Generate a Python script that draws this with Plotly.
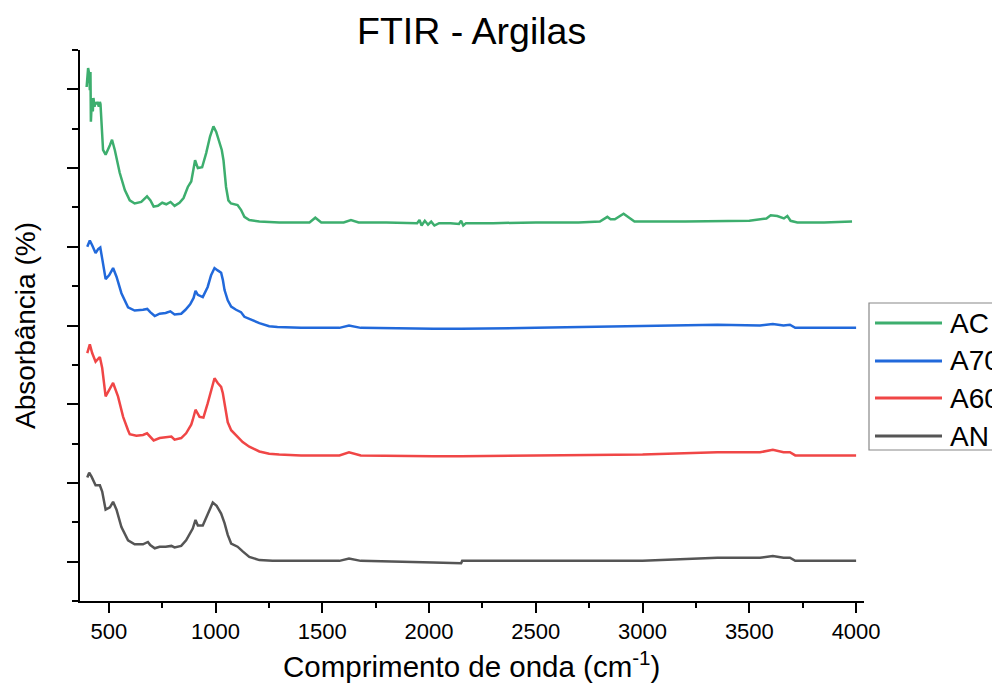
import plotly.graph_objects as go

# ---------------- data ----------------
series_names = ["AC", "A700", "A600", "AN"]
series_colors = ["#3DAE6E", "#2169DB", "#F04646", "#555555"]

ac_x = [396, 403, 408, 411, 414, 416, 421, 425, 428, 433, 438, 442, 447, 453, 458, 461, 473, 485,
        505, 515, 528, 551, 575, 598, 621, 652, 679, 695, 710, 730, 750, 769, 789, 808, 831, 850,
        870, 886, 904, 917, 937, 956, 974, 990, 1003, 1018, 1029, 1037, 1044, 1049, 1060, 1072,
        1103, 1119, 1135, 1158, 1205, 1298, 1440, 1467, 1495, 1600, 1634, 1670, 1800, 1944, 1955,
        1965, 1980, 1995, 2010, 2025, 2047, 2100, 2140, 2150, 2160, 2173, 2300, 2500, 2700, 2800,
        2835, 2850, 2870, 2911, 2962, 3200, 3500, 3580, 3600, 3631, 3662, 3678, 3693, 3725, 3850, 3981]
ac_y = [6.03, 6.27, 6.20, 5.99, 6.22, 5.59, 5.89, 5.72, 5.89, 5.78, 5.84, 5.81, 5.84, 5.78, 5.84, 5.81, 5.23, 5.17,
        5.29, 5.36, 5.23, 4.94, 4.72, 4.59, 4.55, 4.57, 4.64, 4.59, 4.51, 4.52, 4.56, 4.54, 4.57, 4.52, 4.56, 4.62,
        4.76, 4.83, 5.10, 5.00, 5.01, 5.19, 5.40, 5.53, 5.46, 5.33, 5.23, 5.10, 4.94, 4.76, 4.59, 4.55,
        4.53, 4.47, 4.38, 4.34, 4.32, 4.31, 4.31, 4.37, 4.31, 4.31, 4.34, 4.31, 4.31, 4.30, 4.34,
        4.27, 4.33, 4.28, 4.32, 4.27, 4.30, 4.30, 4.29, 4.33, 4.27, 4.30, 4.30, 4.31, 4.31, 4.32,
        4.38, 4.35, 4.35, 4.42, 4.32, 4.32, 4.33, 4.36, 4.40, 4.39, 4.36, 4.39, 4.33, 4.31, 4.31, 4.32]

a700_x = [399, 411, 422, 438, 450, 460, 469, 485, 502, 520, 536, 559, 590, 621, 660, 680, 694, 715,
          738, 766, 788, 808, 839, 859, 881, 897, 906, 917, 940, 963, 979, 995, 1010, 1026, 1034,
          1042, 1057, 1073, 1096, 1119, 1135, 1166, 1205, 1251, 1290, 1400, 1580, 1625, 1680, 2020,
          2150, 2500, 3000, 3350, 3550, 3610, 3660, 3690, 3715, 4000]
a700_y = [4.00, 4.08, 4.02, 3.92, 3.97, 3.99, 3.85, 3.59, 3.64, 3.73, 3.62, 3.41, 3.23, 3.19, 3.20, 3.21, 3.17, 3.12,
          3.15, 3.16, 3.18, 3.14, 3.15, 3.20, 3.27, 3.35, 3.44, 3.39, 3.36, 3.49, 3.64, 3.73, 3.70, 3.67, 3.58,
          3.45, 3.32, 3.24, 3.20, 3.17, 3.11, 3.07, 3.03, 2.99, 2.98, 2.97, 2.97, 3.00, 2.97, 2.96,
          2.96, 2.97, 2.99, 3.01, 3.00, 3.02, 3.00, 3.01, 2.97, 2.97]

a600_x = [399, 411, 422, 438, 458, 469, 485, 502, 520, 543, 567, 590, 598, 629, 660, 679, 694, 710,
          738, 766, 793, 808, 839, 862, 886, 893, 906, 925, 943, 963, 995, 1010, 1026, 1034, 1045,
          1057, 1073, 1096, 1127, 1158, 1205, 1251, 1298, 1400, 1580, 1625, 1680, 2020, 2150, 2500,
          3000, 3350, 3550, 3610, 3660, 3690, 3715, 4000]
a600_y = [2.65, 2.76, 2.65, 2.54, 2.60, 2.46, 2.10, 2.18, 2.27, 2.10, 1.84, 1.67, 1.62, 1.60, 1.61, 1.63, 1.58, 1.54,
          1.57, 1.58, 1.59, 1.55, 1.57, 1.63, 1.74, 1.80, 1.93, 1.84, 1.83, 2.01, 2.33, 2.27, 2.22, 2.14, 1.97,
          1.77, 1.67, 1.61, 1.52, 1.46, 1.40, 1.37, 1.36, 1.35, 1.35, 1.39, 1.35, 1.34, 1.34, 1.35,
          1.36, 1.39, 1.39, 1.42, 1.39, 1.39, 1.35, 1.35]

an_x = [399, 408, 419, 438, 458, 469, 485, 505, 520, 536, 559, 590, 621, 660, 683, 694, 715, 738,
        766, 793, 808, 839, 862, 881, 893, 906, 917, 940, 963, 987, 1005, 1026, 1042, 1057, 1073,
        1103, 1127, 1158, 1205, 1267, 1400, 1580, 1625, 1680, 2020, 2150, 2155, 2500, 3000, 3350,
        3550, 3610, 3660, 3690, 3715, 4000]
an_y = [1.07, 1.13, 1.08, 0.97, 0.97, 0.89, 0.66, 0.69, 0.76, 0.66, 0.44, 0.27, 0.22, 0.22, 0.25, 0.21, 0.17, 0.19,
        0.19, 0.20, 0.18, 0.20, 0.27, 0.36, 0.42, 0.53, 0.46, 0.46, 0.61, 0.75, 0.71, 0.61, 0.49, 0.34, 0.23,
        0.19, 0.13, 0.06, 0.02, 0.01, 0.01, 0.01, 0.04, 0.01, -0.01, -0.02, 0.01, 0.01, 0.01, 0.05,
        0.05, 0.07, 0.05, 0.05, 0.01, 0.01]

x_tick_vals = [500, 1000, 1500, 2000, 2500, 3000, 3500, 4000]
x_tick_text = ["500", "1000", "1500", "2000", "2500", "3000", "3500", "4000"]

title_text = "FTIR - Argilas"
x_title = "Comprimento de onda (cm<sup>-1</sup>)"
y_title = "Absorbância (%)"

FONT = "Liberation Sans, Arial, sans-serif"

# page pixel positions are offset by the 8px default body margin of the html page
OFF = 8
FIG_W, FIG_H = 1000 - OFF, 691 - OFF
# plot area in page pixels: x 80..864, y 50..601
L, R, T, B = 80 - OFF, 864 - OFF, 50 - OFF, 601 - OFF
W, H = R - L, B - T

fig = go.Figure()
all_x = [ac_x, a700_x, a600_x, an_x]
all_y = [ac_y, a700_y, a600_y, an_y]
for name, color, xs, ys in zip(series_names, series_colors, all_x, all_y):
    fig.add_trace(go.Scatter(x=xs, y=ys, mode="lines", name=name,
                             line=dict(color=color, width=2.5), showlegend=False))


def px_x(px):
    return (px - OFF - L) / W


def px_y(py):
    return (B - (py - OFF)) / H


# ---------------- manual legend ----------------
shapes = [dict(type="rect", xref="paper", yref="paper", x0=px_x(869), x1=px_x(1030),
               y0=px_y(450), y1=px_y(303),
               line=dict(color="#888888", width=1.2), fillcolor="white", layer="below")]
annotations = []
row_py = [323, 361, 398, 436]
for name, color, py in zip(series_names, series_colors, row_py):
    shapes.append(dict(type="line", xref="paper", yref="paper", x0=px_x(875), x1=px_x(942),
                       y0=px_y(py), y1=px_y(py), line=dict(color=color, width=3)))
    annotations.append(dict(xref="paper", yref="paper", x=px_x(948), y=px_y(py), text=name, showarrow=False,
                            xanchor="left", yanchor="middle", font=dict(family=FONT, size=28, color="black")))

# titles as annotations for exact placement
annotations.append(dict(xref="paper", yref="paper", x=px_x(471), y=px_y(31), text=title_text, showarrow=False,
                        xanchor="center", yanchor="middle", font=dict(family=FONT, size=37.5, color="black")))
annotations.append(dict(xref="paper", yref="paper", x=px_x(471), y=px_y(664), text=x_title, showarrow=False,
                        xanchor="center", yanchor="middle", font=dict(family=FONT, size=29.5, color="black")))
annotations.append(dict(xref="paper", yref="paper", x=px_x(25), y=px_y(326), text=y_title, showarrow=False,
                        textangle=-90, xanchor="center", yanchor="middle",
                        font=dict(family=FONT, size=28, color="black")))

fig.update_layout(
    width=FIG_W, height=FIG_H,
    margin=dict(l=L, r=FIG_W - R, t=T, b=FIG_H - B, autoexpand=False),
    paper_bgcolor="white", plot_bgcolor="white",
    font=dict(family=FONT, color="black"),
    shapes=shapes, annotations=annotations,
    showlegend=False,
)
fig.update_xaxes(
    range=[365, 4037], showgrid=False, zeroline=False, automargin=False,
    showline=True, linecolor="black", linewidth=2,
    ticks="outside", ticklen=10, tickwidth=2, tickcolor="black",
    tickvals=x_tick_vals, ticktext=x_tick_text,
    tickfont=dict(family=FONT, size=22, color="black"),
    minor=dict(ticks="outside", ticklen=5, tickwidth=2, tickcolor="black", dtick=250, tick0=250, showgrid=False),
)
fig.update_yaxes(
    range=[-0.5, 6.5], showgrid=False, zeroline=False, automargin=False,
    showline=True, linecolor="black", linewidth=2,
    ticks="outside", ticklen=11, tickwidth=2, tickcolor="black",
    dtick=1, tick0=0, showticklabels=False,
    minor=dict(ticks="outside", ticklen=6, tickwidth=2, tickcolor="black", dtick=0.5, tick0=0.5, showgrid=False),
)

fig.write_html("out.html")
